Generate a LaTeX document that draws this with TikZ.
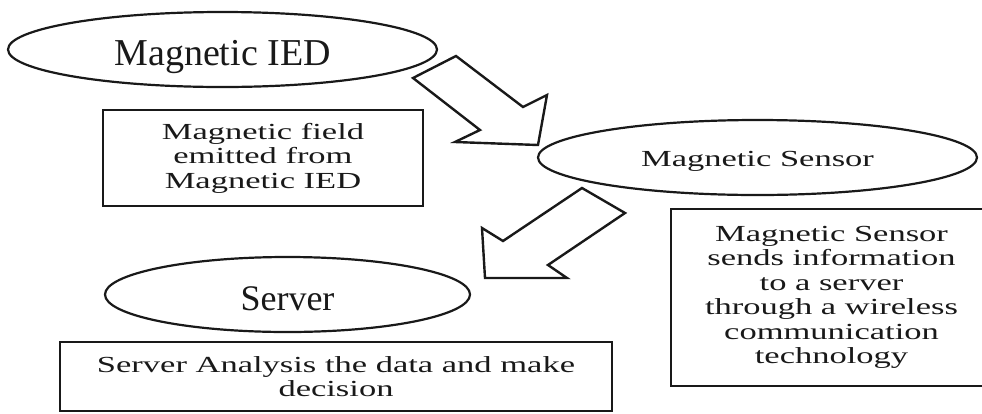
\documentclass[tikz,border=0pt]{standalone}
\usepackage{fontspec}
\setmainfont{Liberation Serif}
\newfontfamily\widefont{Liberation Serif}[FakeStretch=1.5]
\usepackage{tikz}
\usetikzlibrary{shapes.geometric}
\definecolor{inkgray}{RGB}{25,25,25}

\begin{document}
\begin{tikzpicture}[x=1pt,y=-1pt,
  oval/.style={ellipse,draw=inkgray,line width=2.2pt,inner sep=0pt,text=inkgray},
  infobox/.style={rectangle,draw=inkgray,line width=2.8pt,align=center,inner sep=0pt,text=inkgray,
    font=\widefont\fontsize{23}{24.5}\selectfont},
  blockarrow/.style={draw=inkgray,line width=2.4pt,line join=miter}]
  \useasboundingbox (0,0) rectangle (982,413);
  \node[oval,minimum width=429pt,minimum height=75pt,font=\fontsize{38}{40}\selectfont,
    text height=31pt,text depth=0pt] (ied) at (222.5,49.5) {Magnetic IED};
  \node[oval,minimum width=439pt,minimum height=75pt,font=\widefont\fontsize{23}{24.5}\selectfont,
    text height=17pt,text depth=0pt] (sensor) at (757.5,157.5) {Magnetic Sensor};
  \node[oval,minimum width=365pt,minimum height=75pt,font=\fontsize{36}{38}\selectfont,
    text height=31pt,text depth=0pt] (server) at (287.5,294.5) {Server};
  \node[infobox,minimum width=320pt,minimum height=96pt] (field) at (263,158)
    {Magnetic field\\emitted from\\Magnetic IED};
  \node[infobox,minimum width=321pt,minimum height=177pt] (sends) at (831.5,297.5)
    {Magnetic Sensor\\sends information\\to a server\\through a wireless\\communication\\technology};
  \node[infobox,minimum width=552pt,minimum height=69pt] (decide) at (336,376.5)
    {Server Analysis the data and make\\decision};
  \draw[blockarrow] (413,78) -- (456,56) -- (523,107) -- (547,95) -- (538,145) -- (455,142) -- (480,130) -- cycle;
  \draw[blockarrow] (582,188) -- (625,213) -- (548,265) -- (567,278) -- (485,278) -- (482,228) -- (503,241) -- cycle;
\end{tikzpicture}
\end{document}
